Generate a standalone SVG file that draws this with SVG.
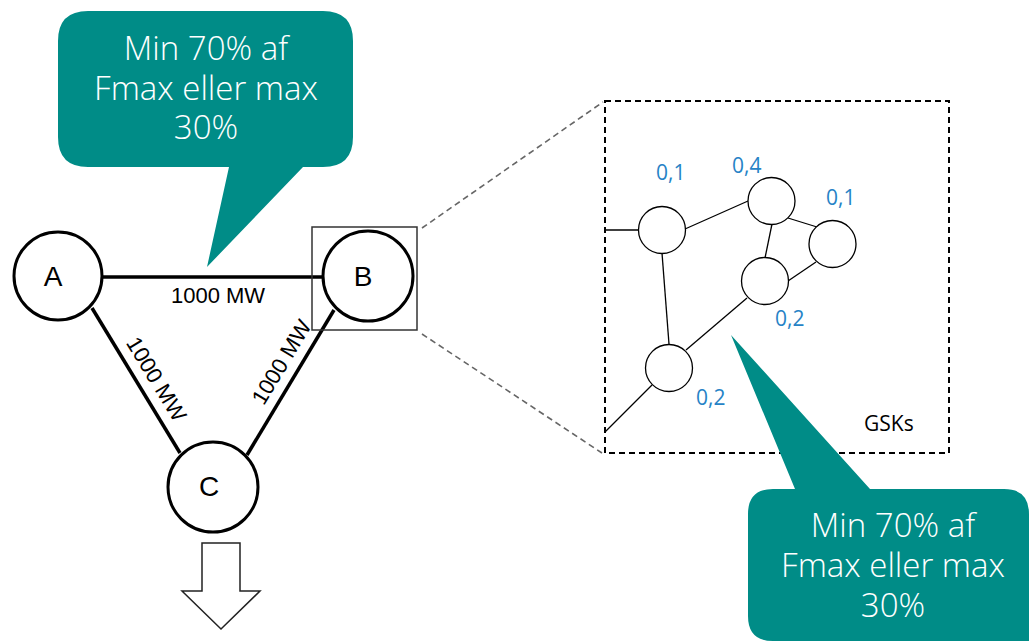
<svg xmlns="http://www.w3.org/2000/svg" width="1029" height="641" viewBox="0 0 1029 641">
<style>
.callout{fill:#008C87}
.ct{font-family:"Open Sans","Segoe UI",sans-serif;font-weight:300;font-size:33px;fill:#ffffff;text-anchor:middle}
.node{fill:#ffffff;stroke:#000;stroke-width:3}
.nl{font-family:"Liberation Sans",Arial,sans-serif;font-size:28px;fill:#000;text-anchor:middle}
.edge{stroke:#000;stroke-width:3.5;fill:none}
.el{font-family:"Liberation Sans",Arial,sans-serif;font-size:22px;fill:#000;text-anchor:middle}
.sn{fill:#ffffff;stroke:#000;stroke-width:1.3}
.se{stroke:#000;stroke-width:1.3;fill:none}
.gsk{font-family:"Open Sans","Segoe UI",sans-serif;font-size:21px;fill:#2683C6}
.zoomline{stroke:#666;stroke-width:1.6;stroke-dasharray:6,4;fill:none}
</style>
<rect width="1029" height="641" fill="#ffffff"/>

<g id="callout-top">
<path class="callout" d="M88,11 H323 Q353,11 353,41 V137 Q353,167 323,167 H303 L207,267 L229,167 H88 Q58,167 58,137 V41 Q58,11 88,11 Z"/>
<text class="ct" x="206" y="60">Min 70% af</text>
<text class="ct" x="206" y="100">Fmax eller max</text>
<text class="ct" x="206" y="139">30%</text>
</g>

<g id="connectors">
<line class="edge" x1="103" y1="277" x2="322" y2="277"/>
<line class="edge" x1="92" y1="308" x2="180" y2="453"/>
<line class="edge" x1="334" y1="310" x2="247" y2="455"/>
<text class="el" x="218" y="303">1000 MW</text>
<text class="el" transform="translate(150,383) rotate(58.7)" x="0" y="0">1000 MW</text>
<text class="el" transform="translate(288,366) rotate(-59)" x="0" y="0">1000 MW</text>
<line class="zoomline" x1="422" y1="228" x2="603" y2="102"/>
<line class="zoomline" x1="422" y1="334" x2="602" y2="453"/>
</g>

<g id="node-A">
<circle class="node" cx="58" cy="276" r="44"/>
<text class="nl" x="53" y="286">A</text>
</g>
<g id="node-B">
<circle class="node" cx="368" cy="276" r="45"/>
<text class="nl" x="363" y="286">B</text>
</g>
<g id="zoom-box-B">
<rect x="312" y="227" width="105" height="103" fill="none" stroke="#333" stroke-width="1.5"/>
</g>
<g id="node-C">
<circle class="node" cx="213" cy="487" r="45"/>
<text class="nl" x="209" y="496">C</text>
</g>

<g id="arrow-down">
<path d="M202,543 H240 V591 H260 L221,629 L182,591 H202 Z" fill="#ffffff" stroke="#222" stroke-width="1.5" stroke-linejoin="miter"/>
</g>

<g id="gsk-box">
<rect x="605" y="101" width="344" height="352" fill="none" stroke="#000" stroke-width="2" stroke-dasharray="6,4"/>
<text x="864" y="431" font-family="'Open Sans','Segoe UI',sans-serif" font-size="21" fill="#000">GSKs</text>
</g>

<g id="gsk-edges">
<line class="se" x1="605" y1="230" x2="639" y2="230" stroke-width="2.5"/>
<line class="se" x1="685" y1="229" x2="748" y2="201"/>
<line class="se" x1="662" y1="253" x2="669" y2="344"/>
<line class="se" x1="772" y1="224" x2="765" y2="258"/>
<line class="se" x1="788" y1="218" x2="817" y2="227"/>
<line class="se" x1="788" y1="281" x2="816" y2="262"/>
<line class="se" x1="747" y1="298" x2="686" y2="350"/>
<line class="se" x1="652" y1="385" x2="605" y2="432"/>
</g>

<g id="gsk-node-1">
<circle class="sn" cx="662" cy="230" r="23.5"/>
<text class="gsk" x="656" y="180">0,1</text>
</g>
<g id="gsk-node-2">
<circle class="sn" cx="771.5" cy="201" r="23.5"/>
<text class="gsk" x="732" y="173">0,4</text>
</g>
<g id="gsk-node-3">
<circle class="sn" cx="832.5" cy="244" r="23.5"/>
<text class="gsk" x="826" y="205">0,1</text>
</g>
<g id="gsk-node-4">
<circle class="sn" cx="765" cy="281" r="23.5"/>
<text class="gsk" x="775" y="326">0,2</text>
</g>
<g id="gsk-node-5">
<circle class="sn" cx="669" cy="368" r="23.5"/>
<text class="gsk" x="696" y="405">0,2</text>
</g>

<g id="callout-bottom">
<path class="callout" d="M773,489 H795 L731,335 L870,489 H1004 Q1029,489 1029,514 V641 H773 Q748,641 748,616 V514 Q748,489 773,489 Z"/>
<text class="ct" x="893" y="537">Min 70% af</text>
<text class="ct" x="893" y="577">Fmax eller max</text>
<text class="ct" x="893" y="617">30%</text>
</g>
</svg>
